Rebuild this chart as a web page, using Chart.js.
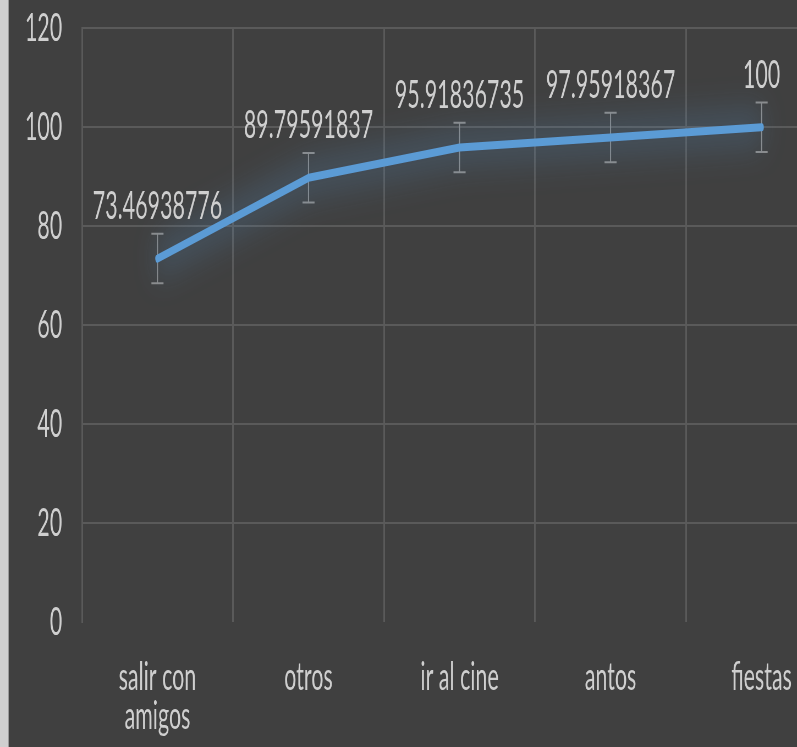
<!DOCTYPE html>
<html>
<head>
<meta charset="utf-8">
<script src="https://cdn.jsdelivr.net/npm/chart.js@4.4.1/dist/chart.umd.min.js"></script>
<style>
  html, body { margin: 0; padding: 0; width: 797px; height: 747px; overflow: hidden; background: #404040; }
  #wrap { position: absolute; left: 0; top: -31px; width: 1530px; height: 814px; transform: scaleX(0.55); transform-origin: 0 0; }
  #strip { position: absolute; left: 0; top: 0; width: 8px; height: 747px; background: #cfcfcf; border-right: 1px solid #9a9a9a; z-index: 5; }
</style>
</head>
<body>
<div id="strip"></div>
<div id="wrap"><canvas id="c"></canvas></div>
<script>
const categories = [['salir con', 'amigos'], 'otros', 'ir al cine', 'antos', 'fiestas'];
const values = [73.46938776, 89.79591837, 95.91836735, 97.95918367, 100];
const errors = [5, 5, 5, 5, 5];
const valueLabels = ['73.46938776', '89.79591837', '95.91836735', '97.95918367', '100'];
const yMin = 0, yMax = 120, yStep = 20;

const FONT = "Lato, 'Liberation Sans', sans-serif";
const TEXT = '#cfcfcf';

const errorBars = {
  id: 'errorBars',
  beforeDatasetsDraw(chart) {
    const ctx = chart.ctx;
    const meta = chart.getDatasetMeta(0);
    const y = chart.scales.y;
    ctx.save();
    ctx.strokeStyle = '#8c8c8c';
    ctx.lineWidth = 2;
    meta.data.forEach((pt, i) => {
      const top = y.getPixelForValue(values[i] + errors[i]);
      const bot = y.getPixelForValue(values[i] - errors[i]);
      const x = pt.x;
      ctx.beginPath();
      ctx.moveTo(x, top); ctx.lineTo(x, bot);
      ctx.moveTo(x - 11, top); ctx.lineTo(x + 11, top);
      ctx.moveTo(x - 11, bot); ctx.lineTo(x + 11, bot);
      ctx.stroke();
    });
    ctx.restore();
  }
};

const glow = {
  id: 'glow',
  beforeDatasetDraw(chart) {
    const ctx = chart.ctx;
    ctx.save();
    ctx.shadowColor = 'rgba(91,155,213,0.95)';
    ctx.shadowBlur = 40;
  },
  afterDatasetDraw(chart) {
    chart.ctx.restore();
  }
};

const dataLabels = {
  id: 'dataLabels',
  afterDraw(chart) {
    const ctx = chart.ctx;
    const meta = chart.getDatasetMeta(0);
    ctx.save();
    ctx.fillStyle = TEXT;
    ctx.font = "400 39px " + FONT;
    ctx.textAlign = 'center';
    ctx.textBaseline = 'middle';
    meta.data.forEach((pt, i) => {
      ctx.fillText(valueLabels[i], pt.x, pt.y - 52);
    });
    ctx.restore();
  }
};

new Chart(document.getElementById('c'), {
  type: 'line',
  data: {
    labels: categories,
    datasets: [{
      data: values,
      borderColor: '#5b9bd5',
      borderWidth: 8,
      borderCapStyle: 'round',
      borderJoinStyle: 'round',
      pointRadius: 0,
      tension: 0,
      fill: false
    }]
  },
  options: {
    responsive: true,
    maintainAspectRatio: false,
    animation: false,
    devicePixelRatio: 1,
    layout: { padding: { top: 26, right: 8, bottom: 11, left: 0 } },
    plugins: { legend: { display: false }, tooltip: { enabled: false } },
    scales: {
      x: {
        offset: true,
        grid: { offset: true, color: '#5a5a5a', lineWidth: 3, drawTicks: false },
        border: { display: false },
        ticks: { color: TEXT, padding: 36, maxRotation: 0, autoSkip: false,
                 font: { family: FONT, size: 39, weight: '400', lineHeight: 1.0 } }
      },
      y: {
        min: yMin, max: yMax,
        afterFit(s) { s.width = 149; },
        grid: { color: (c) => c.tick && c.tick.value === 0 ? 'rgba(0,0,0,0)' : '#5a5a5a', lineWidth: 2, drawTicks: false },
        border: { display: true, color: '#5a5a5a', width: 3 },
        ticks: { stepSize: yStep, color: TEXT, padding: 36,
                 font: { family: FONT, size: 39, weight: '400' } }
      }
    }
  },
  plugins: [errorBars, glow, dataLabels]
});
</script>
</body>
</html>
